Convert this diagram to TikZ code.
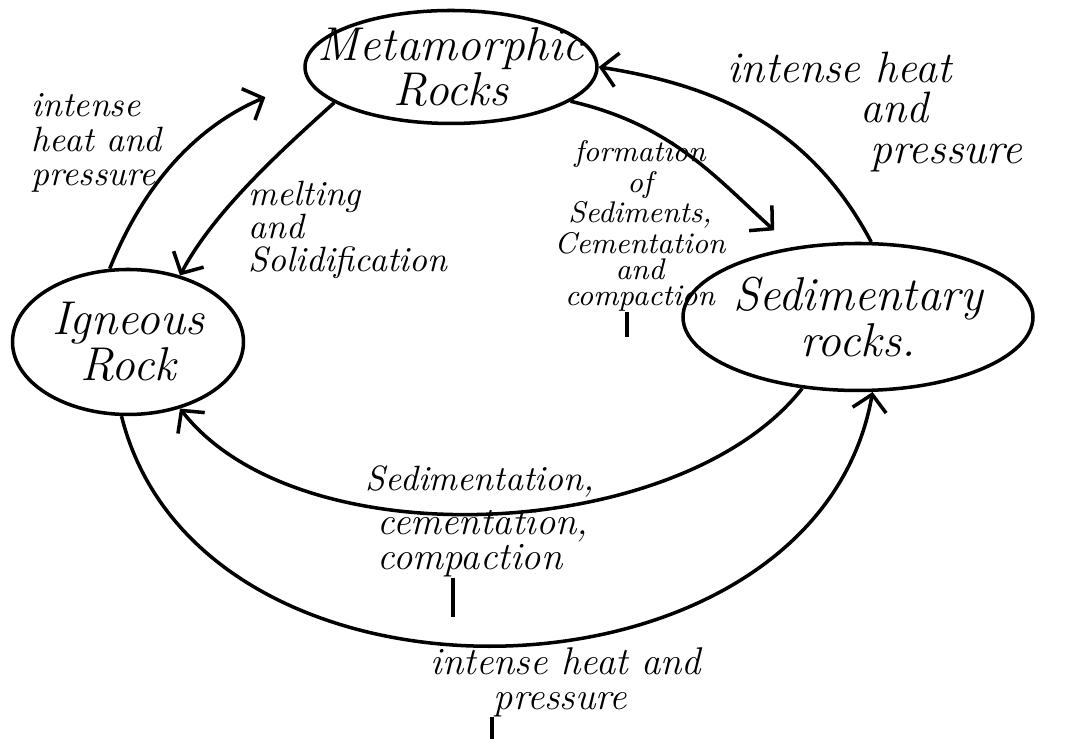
\documentclass[tikz,border=0pt]{standalone}
\usetikzlibrary{shapes.geometric,arrows.meta}
\begin{document}
\begin{tikzpicture}
\tikzstyle{rock_style} = [ellipse, draw, black, line width=1]
\tikzstyle{name_style} = [inner sep=0, align=center, font=\itshape\fontsize{13.5}{13}\selectfont]
\tikzstyle{edge_style} = [black, line width=1, -{Straight Barb[length=1.6mm,width=3.4mm]}]
\tikzstyle{text_style} = [inner sep=0, align=left, font=\itshape\fontsize{10}{9.5}\selectfont]
\tikzstyle{tick_style} = [black, line width=1]
    \useasboundingbox (0,0) rectangle (10.7,7.39);

    \node[rock_style, minimum width=2.92cm, minimum height=1.13cm] (r1) at (4.51,6.72) {};
    \node[rock_style, minimum width=2.31cm, minimum height=1.45cm] (r2) at (1.28,3.97) {};
    \node[rock_style, minimum width=3.50cm, minimum height=1.47cm] (r3) at (8.58,4.22) {};
    \node[name_style] (r1t) at (r1) {Metamorphic\\Rocks};
    \node[name_style] (r2t) at (r2) {Igneous\\Rock};
    \node[name_style] (r3t) at (r3) {Sedimentary\\rocks.};

    \draw[edge_style, shorten >=0.45cm] (r2.104) to[out=68,in=203] (r1.185);
    \draw[edge_style] (r1.197) to[out=222,in=62,looseness=0.8] (r2.52);
    \draw[edge_style, shorten >=0.25cm] (r1.344) to[out=-13,in=138] (r3.133);
    \draw[edge_style] (r3.80) to[out=118,in=-9] (r1.0);
    \draw[edge_style] (r3.232) to[out=232,in=308,looseness=0.8] (r2.308);
    \draw[edge_style] (r2.265) to[out=-76,in=260,looseness=1.12] (r3.281);

    \node[text_style, anchor=west, font=\itshape\fontsize{10}{9.8}\selectfont] (l1) at (0.31,5.96) {intense\\heat and\\pressure};
    \node[text_style, anchor=west] (l2) at (2.48,5.09) {melting\\and\\Solidification};
    \node[text_style, align=center, font=\itshape\fontsize{8.5}{7.5}\selectfont] (l3) at (6.40,5.13) {formation\\of\\Sediments,\\Cementation\\and\\compaction};
    \node[text_style, anchor=west, font=\itshape\fontsize{12.5}{11.5}\selectfont] (l4) at (7.27,6.27) {intense heat\\\hspace*{1.33cm}and\\\hspace*{1.43cm}pressure};
    \node[text_style] (l5) at (4.80,2.57) {Sedimentation,};
    \node[text_style, anchor=west, font=\itshape\fontsize{11}{10}\selectfont] (l6) at (3.77,1.96) {cementation,\\compaction};
    \node[text_style, anchor=west, font=\itshape\fontsize{11}{10}\selectfont] (l7) at (4.30,0.57) {intense heat and\\\hspace*{0.63cm}pressure};

    \coordinate (t1) at (6.27,4.02);
    \coordinate (t2) at (4.53,1.22);
    \coordinate (t3) at (4.92,0);
    \draw[tick_style] (l3.south -| t1) -- (t1);
    \draw[tick_style] (l6.south -| t2) -- (t2);
    \draw[tick_style] (l7.south -| t3) -- (t3);
\end{tikzpicture}
\end{document}
